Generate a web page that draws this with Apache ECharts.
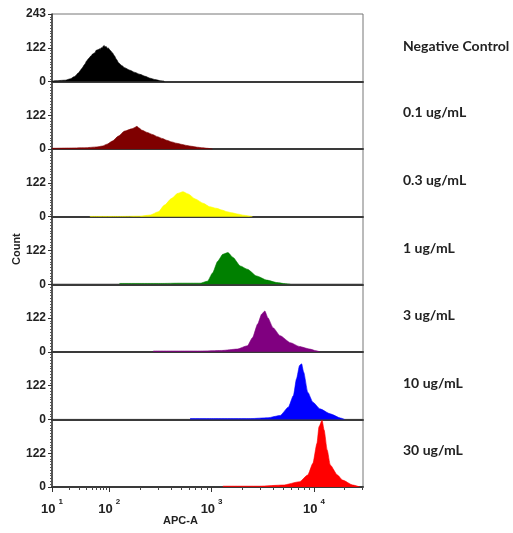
<!DOCTYPE html>
<html><head><meta charset="utf-8">
<script src="https://cdn.jsdelivr.net/npm/echarts@6/dist/echarts.min.js"></script>
<style>html,body{margin:0;padding:0;background:#fff}#c{width:513px;height:533px}</style>
</head><body><div id="c"></div>
<script>
// ---- data (x = display position in decades on the APC-A axis, y = count) ----
const panelLabels = ['Negative Control','0.1 ug/mL','0.3 ug/mL','1 ug/mL','3 ug/mL','10 ug/mL','30 ug/mL'];
const decadeTicks = [1.44, 2, 3, 4];   // axis positions of 10^1 .. 10^4
const decadeExps  = [1, 2, 3, 4];
const xMin = 1.44, xMax = 4.48;
const yMax = 243;
const yLabelStep = 121.5;

const negControl = [[1.44,1],[1.47,3],[1.57,5],[1.62,10],[1.66,18],[1.70,32],[1.73,46],[1.76,62],[1.78,75],[1.80,84],[1.82,92],[1.84,100],[1.86,104],[1.87,112],[1.89,114],[1.90,118],[1.91,116],[1.92,122],[1.93,121],[1.94,127],[1.95,130],[1.96,125],[1.97,126],[1.98,120],[1.99,121],[2.01,112],[2.03,104],[2.05,93],[2.07,80],[2.09,68],[2.12,58],[2.15,50],[2.20,41],[2.25,33],[2.30,26],[2.35,19],[2.40,12],[2.45,7],[2.50,3],[2.53,2],[2.54,0]];
const conc01 = [[1.44,3],[1.60,4],[1.76,5],[1.88,8],[1.93,11],[1.98,18],[2.03,29],[2.09,47],[2.15,65],[2.22,73],[2.25,78],[2.27,82],[2.29,76],[2.32,68],[2.37,60],[2.42,53],[2.47,45],[2.52,38],[2.56,32],[2.61,26],[2.66,21],[2.71,17],[2.76,13],[2.81,10],[2.86,7],[2.91,5],[2.96,3],[3.01,0]];
const conc03 = [[1.81,1],[2.10,1],[2.30,2],[2.40,6],[2.48,18],[2.54,42],[2.61,66],[2.67,84],[2.72,90],[2.77,82],[2.84,64],[2.92,48],[2.98,36],[3.05,30],[3.10,24],[3.15,18],[3.20,14],[3.25,10],[3.32,5],[3.38,2],[3.40,0]];
const conc1 = [[2.10,3],[2.30,3],[2.50,3],[2.70,4],[2.89,4],[2.96,11],[3.01,41],[3.06,83],[3.11,108],[3.16,114],[3.21,96],[3.28,66],[3.35,54],[3.44,30],[3.54,15],[3.64,6],[3.72,2],[3.77,0]];
const conc3 = [[2.43,3],[2.60,3],[2.75,3],[2.89,3],[3.10,5],[3.25,10],[3.35,22],[3.40,51],[3.45,100],[3.49,136],[3.52,147],[3.55,123],[3.60,87],[3.67,58],[3.77,33],[3.86,19],[3.96,10],[4.02,4],[4.06,0]];
const conc10 = [[2.79,3],[3.00,3],[3.20,3],[3.38,3],[3.55,6],[3.67,14],[3.75,44],[3.80,86],[3.83,146],[3.86,194],[3.88,200],[3.90,170],[3.94,98],[3.99,62],[4.06,38],[4.16,20],[4.26,5],[4.30,0]];
const conc30 = [[3.11,3],[3.30,3],[3.47,3],[3.70,7],[3.86,19],[3.94,43],[3.99,85],[4.03,157],[4.05,217],[4.08,240],[4.10,205],[4.13,133],[4.16,79],[4.23,43],[4.28,25],[4.38,7],[4.45,0]];

const seriesData = [negControl, conc01, conc03, conc1, conc3, conc10, conc30];
const colors = ['#000000','#7f0000','#ffff00','#008000','#800080','#0000ff','#ff0000'];

// ---- layout ----
const plotTop = 14, plotBottom = 487, plotLeft = 52, plotRight = 363;
const W = 513, H = 533;
const n = seriesData.length;
const ph = (plotBottom - plotTop) / n;
const font = '"Liberation Sans", Arial, sans-serif';

const chart = echarts.init(document.getElementById('c'), null, {renderer:'canvas'});

const grids = [], xAxes = [], yAxes = [], series = [], graphics = [];
for (let i = 0; i < n; i++) {
  grids.push({left: plotLeft, right: W - plotRight, top: plotTop + i*ph, height: ph,
    show: true, borderColor: '#777', borderWidth: 1, backgroundColor: 'transparent'});
  xAxes.push({type:'value', gridIndex:i, min:xMin, max:xMax, position:'bottom',
    axisLine:{show:true, onZero:false, lineStyle:{color:'#3a3a3a', width:2}},
    axisTick:{show:false}, axisLabel:{show:false}, splitLine:{show:false}});
  yAxes.push({type:'value', gridIndex:i, min:0, max:yMax, interval:yLabelStep,
    axisLine:{show:true, lineStyle:{color:'#333', width:1.5}},
    axisTick:{show:true, length:4, lineStyle:{color:'#333'}},
    minorTick:{show:true, splitNumber:12, length:2, lineStyle:{color:'#555'}},
    axisLabel:{show:true, margin:6, showMaxLabel: i===0, color:'#222', fontWeight:'bold', fontSize:12, fontFamily:font,
      formatter: v => String(Math.round(v))},
    splitLine:{show:false}});
  series.push({type:'line', xAxisIndex:i, yAxisIndex:i, data: seriesData[i], showSymbol:false,
    smooth:0.2, smoothMonotone:'x', silent:true,
    lineStyle:{color:colors[i], width:0.6}, areaStyle:{color:colors[i], opacity:1}});
  graphics.push({type:'text', left: 403, top: plotTop + i*ph + ph/2 - 9.5 + (i === 0 ? 1.5 : 0),
    style:{text: panelLabels[i], fill:'#222', font:'bold 14px Lato, "Open Sans", sans-serif'}});
}

// bottom tick axes (major with labels, minor)
const minorVals = [];
for (let m = 2; m <= 9; m++) {
  minorVals.push(xMin + (2 - xMin) * Math.log10(m));
  minorVals.push(2 + Math.log10(m));
  minorVals.push(3 + Math.log10(m));
  if (4 + Math.log10(m) < xMax) minorVals.push(4 + Math.log10(m));
}
xAxes.push({type:'value', gridIndex:n-1, min:xMin, max:xMax, position:'bottom',
  axisLine:{show:false}, splitLine:{show:false},
  axisTick:{show:true, length:3, customValues: minorVals, lineStyle:{color:'#444'}},
  axisLabel:{show:false}});
xAxes.push({type:'value', gridIndex:n-1, min:xMin, max:xMax, position:'bottom',
  axisLine:{show:false}, splitLine:{show:false},
  axisTick:{show:true, length:5, customValues: decadeTicks, lineStyle:{color:'#333'}},
  axisLabel:{show:true, customValues: decadeTicks, margin:10, color:'#222',
    formatter: v => { const k = decadeTicks.findIndex(t => Math.abs(t - v) < 1e-6); return '{b|10}{s|' + decadeExps[k] + '}'; },
    rich:{ b:{fontSize:13, fontWeight:'bold', fontFamily:font, color:'#222', padding:[6,0,0,0]},
           s:{fontSize:8, fontWeight:'bold', fontFamily:font, color:'#222', padding:[0,0,9,3]} }}});

graphics.push({type:'text', left: 163, top: 515, style:{text:'APC-A', fill:'#222', font:'bold 11px ' + font}});
graphics.push({type:'text', x: 11, y: 265, rotation: Math.PI/2, style:{text:'Count', fill:'#222', font:'bold 11px ' + font}});

chart.setOption({animation:false, backgroundColor:'#fff', grid:grids, xAxis:xAxes, yAxis:yAxes, series:series, graphic:graphics});
</script></body></html>
